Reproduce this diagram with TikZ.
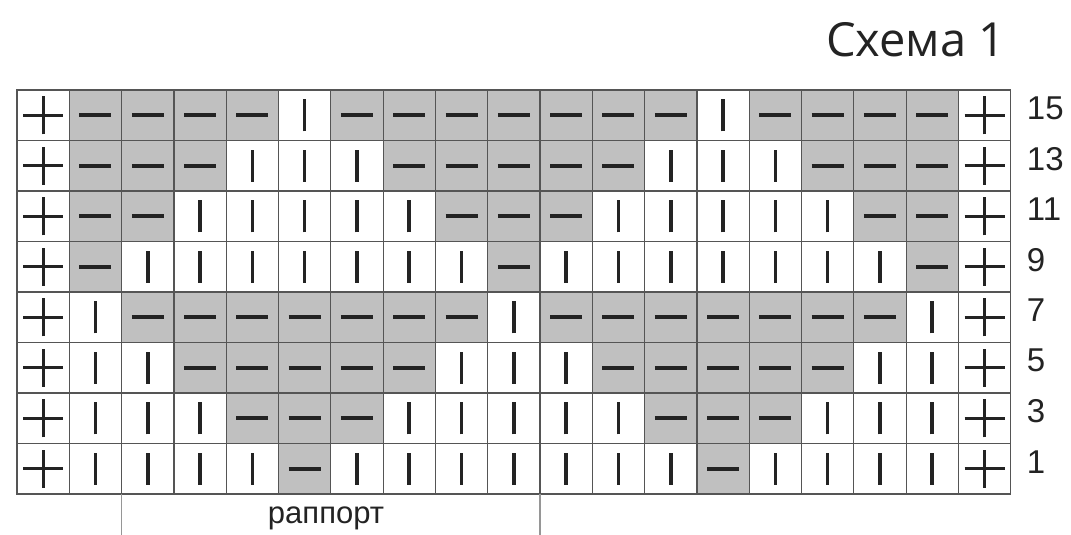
\documentclass[tikz,border=0pt]{standalone}
\usepackage{fontspec}
\setmainfont{Liberation Sans}
\newfontfamily\titlefont{Open Sans}
\definecolor{gridc}{RGB}{85,85,85}
\definecolor{shadec}{RGB}{192,192,192}
\definecolor{symc}{RGB}{35,35,35}
\definecolor{rapc}{RGB}{150,150,150}
\begin{document}
\begin{tikzpicture}[x=1pt,y=-1pt,
  cell/.style={draw=gridc, line width=1.2pt, minimum width=52.3pt, minimum height=50.5pt, inner sep=0pt, outer sep=0pt, fill=white},
  symline/.style={draw=symc, line width=3.6pt},
  symD/.style={cell, fill=shadec, path picture={\draw[symline] ([xshift=-16pt]path picture bounding box.center) -- ([xshift=16pt]path picture bounding box.center);}},
  symK/.style={cell, path picture={\draw[symline] ([yshift=-16pt]path picture bounding box.center) -- ([yshift=16pt]path picture bounding box.center);}},
  symP/.style={cell, path picture={\draw[symline, line width=3.2pt] ([xshift=-20pt]path picture bounding box.center) -- ([xshift=20pt]path picture bounding box.center); \draw[symline, line width=3.2pt] ([yshift=-19pt]path picture bounding box.center) -- ([yshift=19pt]path picture bounding box.center);}},
  rowlabel/.style={anchor=west, inner sep=0pt, font=\fontsize{33}{38}\selectfont, text=symc},
  rapline/.style={draw=rapc, line width=1.2pt},
]
\useasboundingbox (0,0) rectangle (1071,535);
\foreach \row [count=\r] in {
  {P,D,D,D,D,K,D,D,D,D,D,D,D,K,D,D,D,D,P},
  {P,D,D,D,K,K,K,D,D,D,D,D,K,K,K,D,D,D,P},
  {P,D,D,K,K,K,K,K,D,D,D,K,K,K,K,K,D,D,P},
  {P,D,K,K,K,K,K,K,K,D,K,K,K,K,K,K,K,D,P},
  {P,K,D,D,D,D,D,D,D,K,D,D,D,D,D,D,D,K,P},
  {P,K,K,D,D,D,D,D,K,K,K,D,D,D,D,D,K,K,P},
  {P,K,K,K,D,D,D,K,K,K,K,K,D,D,D,K,K,K,P},
  {P,K,K,K,K,D,K,K,K,K,K,K,K,D,K,K,K,K,P}} {
  \foreach \s [count=\c] in \row {
    \node[sym\s] (c-\r-\c) at ({17+(\c-0.5)*52.3},{90+(\r-0.5)*50.5}) {};
  }
  \node[rowlabel, xshift=16pt, yshift=7pt] (n-\r) at (c-\r-19.east) {\the\numexpr17-2*\r\relax};
}
\coordinate (bottom) at (0,535);
\draw[rapline] (c-8-2.south east) -- (c-8-2.south east |- bottom);
\draw[rapline] (c-8-10.south east) -- (c-8-10.south east |- bottom);
\node[anchor=base, inner sep=0pt, font=\fontsize{31}{36}\selectfont, text=symc] (rap) at (326,523) {раппорт};
\node[anchor=base, inner sep=0pt, font=\titlefont\fontsize{47}{56}\selectfont, text=symc] (title) at (916,57) {Схема 1};
\end{tikzpicture}
\end{document}
